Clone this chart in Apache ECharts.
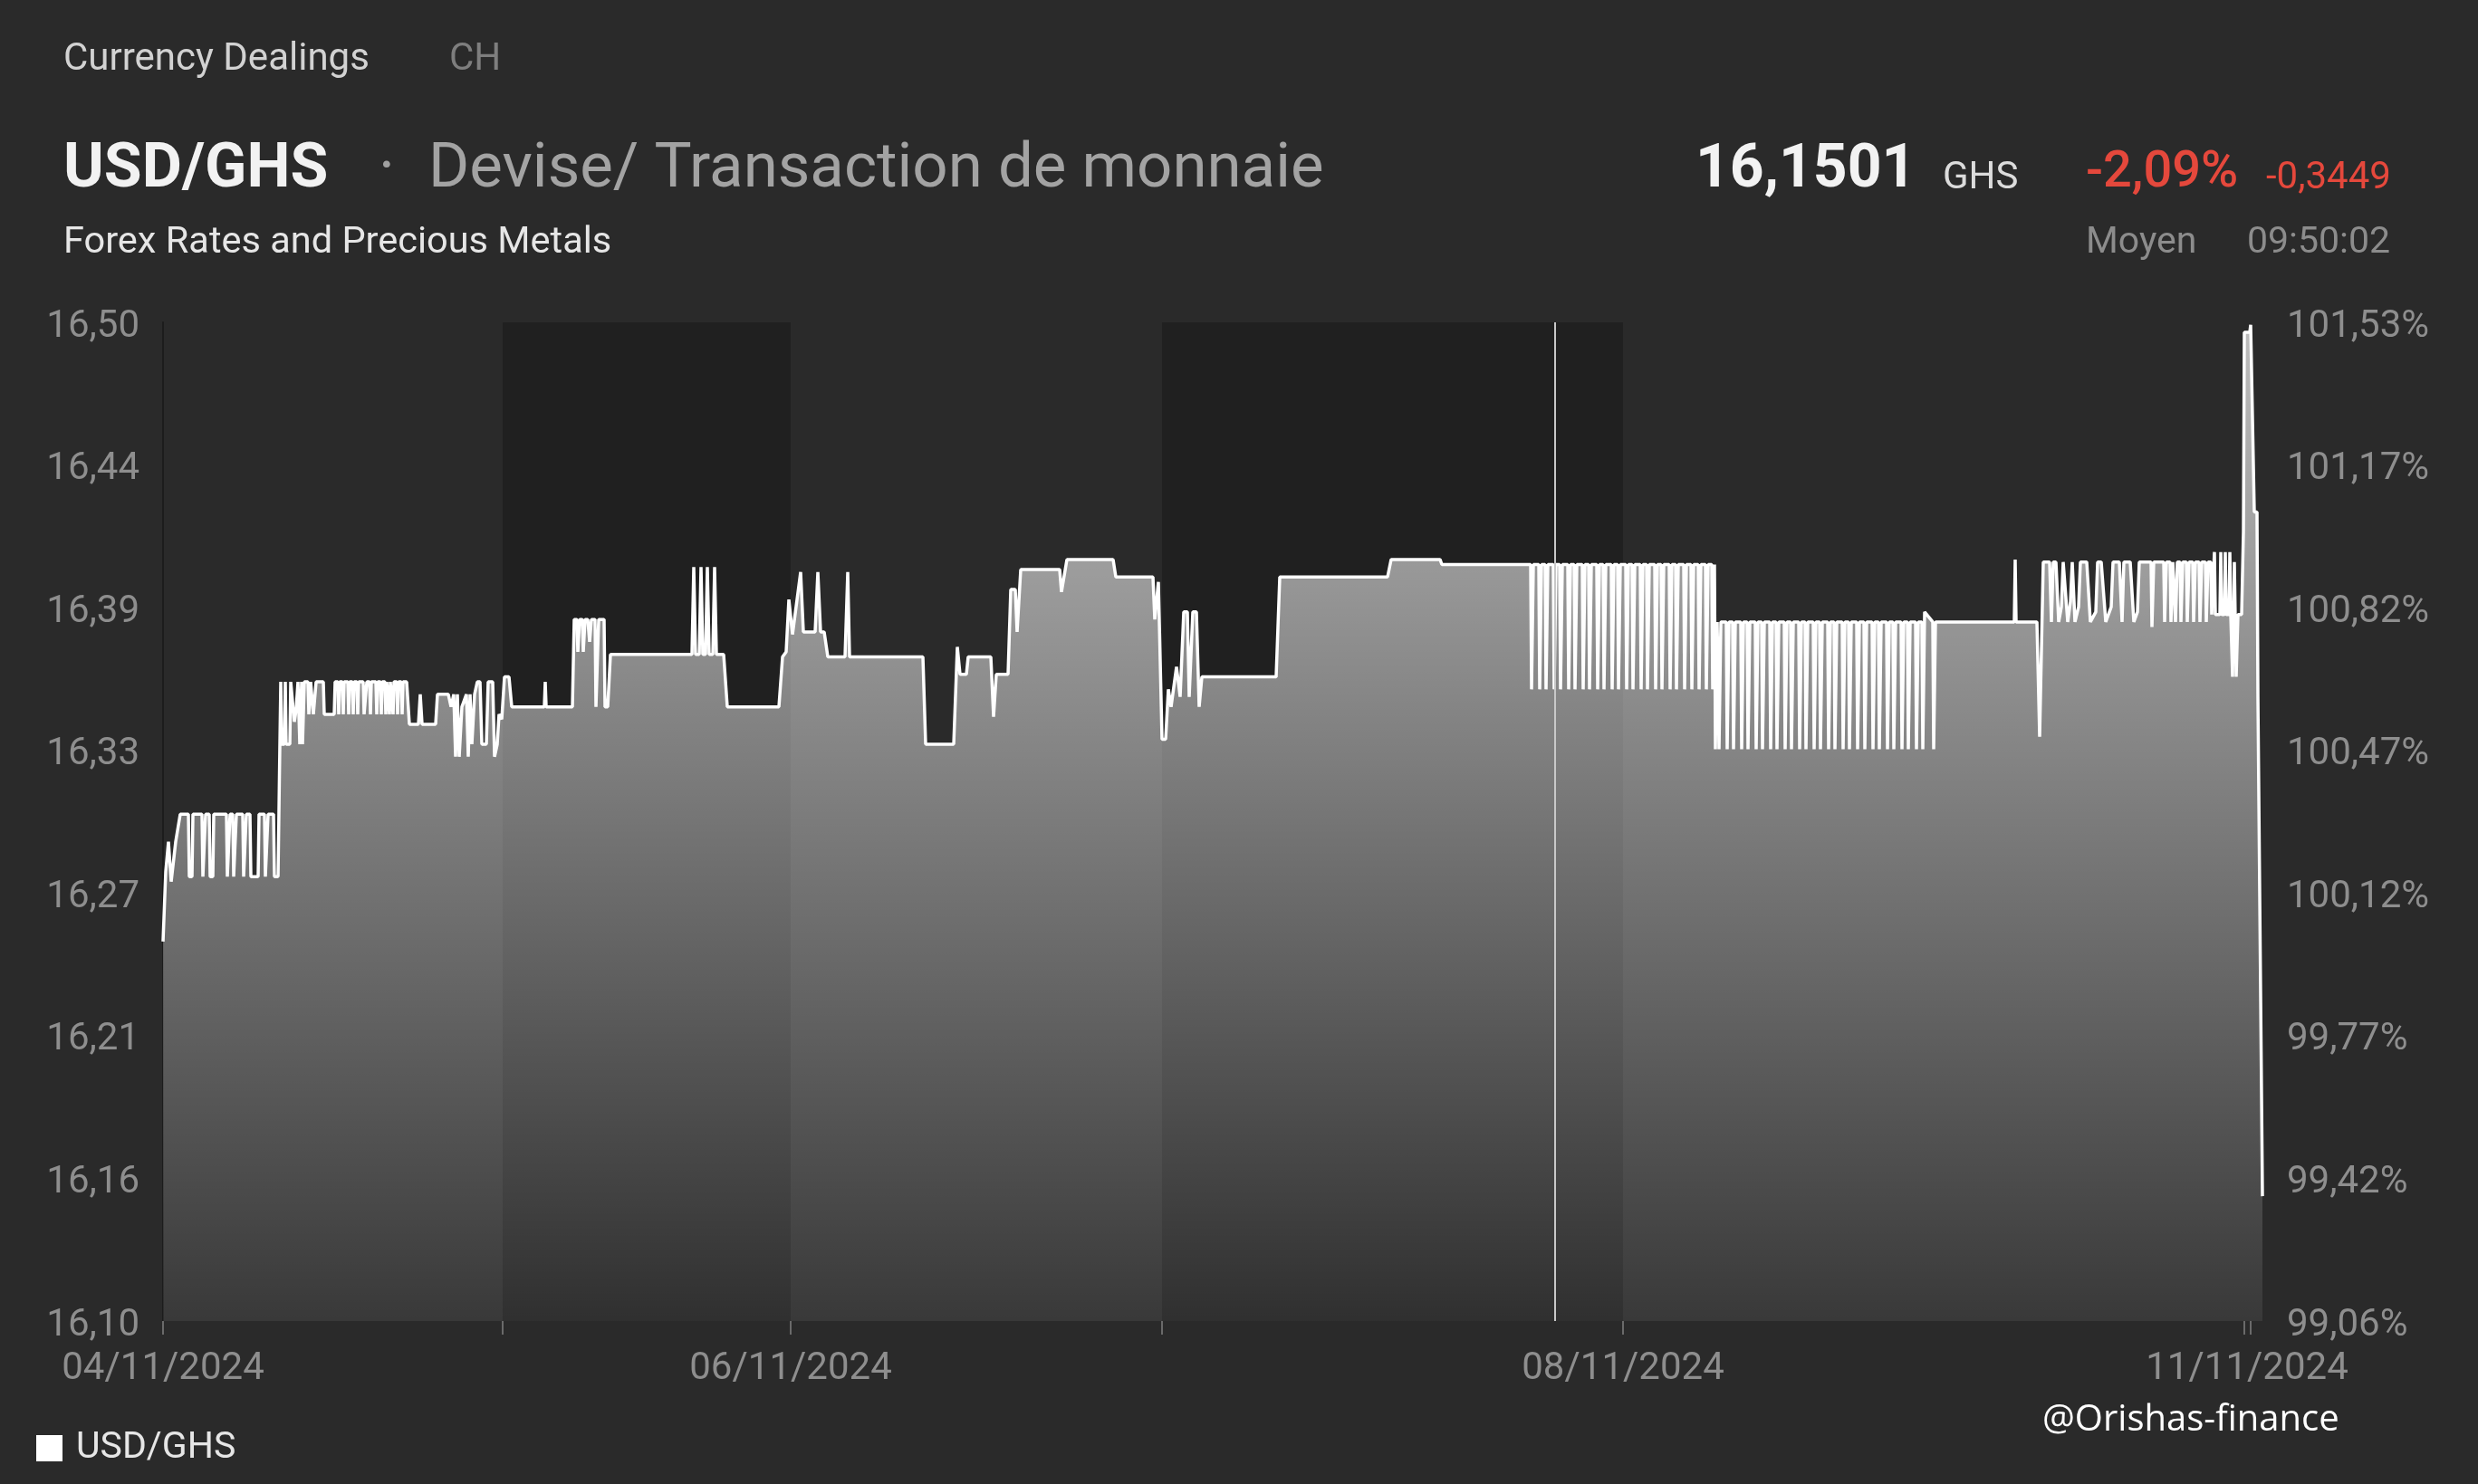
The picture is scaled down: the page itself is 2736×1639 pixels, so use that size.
<!DOCTYPE html>
<html><head><meta charset="utf-8">
<script src="https://cdn.jsdelivr.net/npm/echarts@6/dist/echarts.min.js"></script>
<style>html,body{margin:0;padding:0;background:#2a2a2a;}#chart{width:2736px;height:1639px;}</style>
</head><body><div id="chart"></div>
<script>
// x = trading-time index, y = USD/GHS rate
const day04 = [[0,16.252],[3,16.280],[6,16.292],[9,16.276],[14,16.292],[19,16.303],
[28,16.303],[29,16.278],[32,16.278],[33,16.303],[43,16.303],[44,16.278],[46,16.278],[47,16.303],
[51,16.303],[52,16.278],[55,16.278],[56,16.303],[70,16.303],[71,16.278],[73,16.278],[74,16.303],
[77,16.303],[78,16.278],[80,16.278],[81,16.303],[88,16.303],[89,16.278],[91,16.278],[92,16.303],
[96,16.303],[97,16.278],[105,16.278],[106,16.303],[112,16.303],[113,16.278],[115,16.278],[116,16.303],
[122,16.303],[123,16.278],[127,16.278],
[129,16.331],[130,16.356],[131,16.331],[134,16.331],[135,16.356],[136,16.331],[140,16.331],[141,16.356],
[143,16.356],[145,16.340],[147,16.345],[149,16.356],[151,16.331],[153,16.356],[154,16.331],[156,16.356],
[160,16.356],[161,16.343],[163,16.356],[165,16.356],[166,16.343],[168,16.343],[169,16.356],[177,16.356],
[178,16.343],[189,16.343],[190,16.356],[193,16.356],[194,16.343],[195,16.356],[198,16.356],[199,16.343],
[200,16.356],[204,16.356],[205,16.343],[206,16.356],[209,16.356],[210,16.343],[211,16.356],[214,16.356],
[215,16.343],[216,16.356],[221,16.356],[222,16.343],[224,16.343],[225,16.356],[228,16.356],[229,16.343],
[230,16.356],[235,16.356],[236,16.343],[237,16.356],[240,16.356],[241,16.343],[242,16.356],[245,16.356],
[246,16.343],[247,16.356],[249,16.356],[250,16.343],[251,16.356],[253,16.356],[254,16.343],[255,16.356],
[258,16.356],[259,16.343],[260,16.356],[263,16.356],[264,16.343],[265,16.356],[269,16.356],
[272,16.339],[282,16.339],[284,16.351],[286,16.339],[301,16.339],[303,16.351],[315,16.351],[318,16.346],
[321,16.351],[323,16.326],[325,16.351],[327,16.326],[330,16.346],[335,16.351],[337,16.326],[339,16.351],
[341,16.331],[344,16.351],[347,16.356],[350,16.356],[352,16.331],[357,16.331],[359,16.356],[364,16.356],
[366,16.326],[369,16.331],[371,16.343],[374,16.341]];
const day05 = [[377,16.358],[382,16.358],[385,16.346],[421,16.346],[422,16.356],[423,16.346],[452,16.346],
[454,16.381],[457,16.381],[458,16.368],[460,16.381],[463,16.381],[464,16.368],[466,16.381],[469,16.381],
[471,16.372],[473,16.381],[477,16.381],[478,16.346],[480,16.346],[481,16.381],[487,16.381],[488,16.346],
[491,16.346],[494,16.367],[584,16.367],[586,16.402],[588,16.367],[592,16.367],[594,16.402],[596,16.367],
[599,16.367],[601,16.402],[603,16.367],[607,16.367],[609,16.402],[611,16.367],[619,16.367],[623,16.346],
[680,16.346],[684,16.366],[688,16.368],[691,16.389]];
const day06 = [[695,16.375],[697,16.375],[704,16.400],[707,16.376],[720,16.376],[723,16.400],[726,16.376],
[730,16.376],[734,16.366],[753,16.366],[756,16.400],[758,16.366],[839,16.366],[842,16.331],[873,16.331],
[877,16.370],[880,16.359],[887,16.359],[889,16.366],[914,16.366],[917,16.342],[920,16.359],[933,16.359],
[936,16.393],[941,16.393],[943,16.376],[947,16.401],[990,16.401],[992,16.392],[998,16.405],[1049,16.405],
[1052,16.398],[1093,16.398],[1095,16.381],[1099,16.396]];
const day07 = [[1103,16.333],[1107,16.333],[1110,16.353],[1113,16.346],[1119,16.362],[1123,16.350],
[1127,16.384],[1131,16.384],[1133,16.350],[1137,16.384],[1141,16.384],[1144,16.346],[1147,16.358],
[1229,16.358],[1233,16.398],[1352,16.398],[1356,16.405],[1410,16.405],[1412,16.403],
[1510,16.403],[1511,16.353],[1513,16.403],[1519,16.403],[1520,16.353],[1522,16.403],[1526,16.403],
[1527,16.353],[1529,16.403],[1535,16.403],[1536,16.353],[1538,16.403],[1542,16.403],[1543,16.353],
[1545,16.403],[1551,16.403],[1552,16.353],[1554,16.403],[1558,16.403],[1559,16.353],[1561,16.403],
[1567,16.403],[1568,16.353],[1570,16.403],[1574,16.403],[1575,16.353],[1577,16.403],[1583,16.403],
[1584,16.353],[1586,16.403],[1590,16.403],[1591,16.353],[1593,16.403],[1599,16.403],[1600,16.353],
[1602,16.403],[1606,16.403],[1607,16.353],[1609,16.403]];
const day08 = [[1615,16.403],[1616,16.353],[1618,16.403],[1622,16.403],[1623,16.353],[1625,16.403],
[1631,16.403],[1632,16.353],[1634,16.403],[1638,16.403],[1639,16.353],[1641,16.403],[1647,16.403],
[1648,16.353],[1650,16.403],[1654,16.403],[1655,16.353],[1657,16.403],[1663,16.403],[1664,16.353],
[1666,16.403],[1670,16.403],[1671,16.353],[1673,16.403],[1679,16.403],[1680,16.353],[1682,16.403],
[1687,16.403],[1688,16.353],[1690,16.403],[1695,16.403],[1696,16.353],[1698,16.403],[1703,16.403],
[1704,16.353],[1706,16.403],[1710,16.403],[1711,16.353],[1713,16.403],[1714,16.329],
[1716,16.380],[1717,16.380],[1718,16.329],[1720,16.380],[1726,16.380],[1727,16.329],[1729,16.380],
[1733,16.380],[1734,16.329],[1736,16.380],[1742,16.380],[1743,16.329],[1745,16.380],[1749,16.380],
[1750,16.329],[1752,16.380],[1758,16.380],[1759,16.329],[1761,16.380],[1765,16.380],[1766,16.329],
[1768,16.380],[1774,16.380],[1775,16.329],[1777,16.380],[1781,16.380],[1782,16.329],[1784,16.380],
[1790,16.380],[1791,16.329],[1793,16.380],[1797,16.380],[1798,16.329],[1800,16.380],[1806,16.380],
[1807,16.329],[1809,16.380],[1813,16.380],[1814,16.329],[1816,16.380],[1822,16.380],[1823,16.329],
[1825,16.380],[1829,16.380],[1830,16.329],[1832,16.380],[1838,16.380],[1839,16.329],[1841,16.380],
[1845,16.380],[1846,16.329],[1848,16.380],[1854,16.380],[1855,16.329],[1857,16.380],[1861,16.380],
[1862,16.329],[1864,16.380],[1870,16.380],[1871,16.329],[1873,16.380],[1878,16.380],[1879,16.329],
[1881,16.380],[1887,16.380],[1888,16.329],[1890,16.380],[1894,16.380],[1895,16.329],[1897,16.380],
[1903,16.380],[1904,16.329],[1906,16.380],[1910,16.380],[1911,16.329],[1913,16.380],[1919,16.380],
[1920,16.329],[1922,16.380],[1926,16.380],[1927,16.329],[1929,16.380],[1935,16.380],[1936,16.329],
[1938,16.380],[1942,16.380],[1943,16.329],[1945,16.384],[1954,16.380],[1955,16.329],[1957,16.380],
[2044,16.380],[2045,16.405],[2046,16.380],[2069,16.380],[2072,16.334],[2076,16.404],
[2083,16.404],[2085,16.380],[2087,16.404],[2090,16.404],[2093,16.380],[2096,16.386],[2098,16.404],
[2100,16.404],[2103,16.380],[2106,16.388],[2108,16.404],[2111,16.380],[2115,16.386],[2117,16.404],
[2124,16.404],[2128,16.380],[2134,16.384],[2136,16.404],[2140,16.404],[2145,16.380],[2151,16.386],
[2153,16.404],[2160,16.404],[2163,16.380],[2165,16.404],[2172,16.404],[2176,16.380],[2180,16.384],
[2182,16.404],[2195,16.404],[2196,16.378],[2198,16.404],[2209,16.404],[2210,16.380],[2212,16.404],
[2216,16.404],[2217,16.380],[2219,16.404],[2221,16.404],[2222,16.380],[2224,16.404],[2227,16.404],
[2228,16.380],[2230,16.404],[2234,16.404],[2235,16.380],[2237,16.404],[2241,16.404],[2242,16.380],
[2244,16.404],[2248,16.404],[2249,16.380],[2251,16.404],[2255,16.404],[2256,16.380],[2258,16.404],
[2261,16.404],[2262,16.383],[2264,16.383],[2265,16.408],[2266,16.383],[2271,16.383],[2272,16.408],
[2273,16.383],[2276,16.383],[2277,16.408],[2278,16.383],[2281,16.383],[2282,16.408],[2283,16.383],
[2285,16.358],[2287,16.404],[2289,16.358],[2291,16.383],[2295,16.383]];
const day11 = [[2297,16.416],[2298,16.496],[2304,16.496],[2305,16.499],[2307,16.499],[2309,16.424],
[2312,16.424],[2313,16.350],[2315,16.350],[2318,16.150]];

const dayStarts = [0, 375, 693, 1103, 1612, 2298];
const extraTicks = [2305];
const labelPositions = [0, 693, 1612, 2301];
const labelTexts = ['04/11/2024', '06/11/2024', '08/11/2024', '11/11/2024'];
const leftTickLabels = ['16,10','16,16','16,21','16,27','16,33','16,39','16,44','16,50'];
const rightTickLabels = ['99,06%','99,42%','99,77%','100,12%','100,47%','100,82%','101,17%','101,53%'];
const yMin = 16.10, yMax = 16.50, xEnd = 2318;
const cursorTime = 1537;

const series = [].concat(day04, day05, day06, day07, day08, day11);
const yStep = (yMax - yMin) / (leftTickLabels.length - 1);
const yTicks = leftTickLabels.map((_, i) => yMin + i * yStep);
const bands = [[dayStarts[1], dayStarts[2]], [dayStarts[3], dayStarts[4]]];

const axisFont = {color: '#8e8e8e', fontSize: 42, fontFamily: 'Roboto'};
const chart = echarts.init(document.getElementById('chart'), null, {renderer: 'canvas'});
const T = (text, x, y, fill, size, weight, align, family) => ({
  type: 'text', x: x, y: y, silent: true,
  style: {text: text, fill: fill, font: (weight || 'normal') + ' ' + size + 'px ' + (family || 'Roboto'),
          align: align || 'left', verticalAlign: 'middle'}
});
chart.setOption({
  animation: false,
  backgroundColor: '#2a2a2a',
  grid: {left: 180, right: 238, top: 356, bottom: 180},
  legend: {
    data: ['USD/GHS'], left: 35, top: 1574, icon: 'rect', itemWidth: 29, itemHeight: 29,
    textStyle: {color: '#e6e6e6', fontSize: 41, fontFamily: 'Roboto', padding: [0, 0, 0, 10]},
    selectedMode: false
  },
  xAxis: {
    type: 'value', min: 0, max: xEnd,
    axisLine: {show: false},
    splitLine: {show: false},
    axisTick: {show: true, customValues: dayStarts.concat(extraTicks), length: 15,
               lineStyle: {color: '#6a6a6a', width: 2}},
    axisLabel: Object.assign({customValues: labelPositions, margin: 32,
      formatter: v => labelTexts[labelPositions.indexOf(v)] || ''}, axisFont)
  },
  yAxis: [{
    type: 'value', min: yMin, max: yMax, position: 'left',
    axisLine: {show: true, lineStyle: {color: '#1c1c1c', width: 2}},
    axisTick: {show: false}, splitLine: {show: false},
    axisLabel: Object.assign({customValues: yTicks, margin: 26, verticalAlign: 'top', lineHeight: 10,
      formatter: v => leftTickLabels[Math.round((v - yMin) / yStep)]}, axisFont)
  }, {
    type: 'value', min: yMin, max: yMax, position: 'right',
    axisLine: {show: false}, axisTick: {show: false}, splitLine: {show: false},
    axisLabel: Object.assign({customValues: yTicks, margin: 27, verticalAlign: 'top', lineHeight: 10,
      formatter: v => rightTickLabels[Math.round((v - yMin) / yStep)]}, axisFont)
  }],
  series: [{
    name: 'bands', type: 'line', data: [], silent: true,
    markArea: {silent: true, itemStyle: {color: '#202020'},
      data: bands.map(b => [{xAxis: b[0]}, {xAxis: b[1]}])}
  }, {
    name: 'USD/GHS', type: 'line', data: series, showSymbol: false, symbol: 'none',
    clip: false, z: 3,
    itemStyle: {color: '#ffffff'},
    lineStyle: {color: '#ffffff', width: 3.5},
    areaStyle: {opacity: 1, color: new echarts.graphic.LinearGradient(0, 0, 0, 1, [
      {offset: 0, color: 'rgba(255,255,255,0.69)'},
      {offset: 1, color: 'rgba(255,255,255,0.07)'}])},
    markLine: {silent: true, symbol: 'none', label: {show: false},
      lineStyle: {color: '#c8c8c8', width: 2, type: 'solid'},
      data: [{xAxis: cursorTime}]}
  }],
  graphic: [
    T('Currency Dealings', 70, 66, '#d2d2d2', 42),
    T('CH', 496, 66, '#7e7e7e', 42),
    T('USD/GHS', 70, 189, '#f2f2f2', 68, 'bold'),
    T('·', 427, 189, '#a0a0a0', 69, 'normal', 'center'),
    T('Devise/ Transaction de monnaie', 473, 189, '#a3a3a3', 69),
    T('Forex Rates and Precious Metals', 70, 269, '#e6e6e6', 41.5),
    T('16,1501', 1872, 189, '#f2f2f2', 66, 'bold'),
    T('GHS', 2145, 197, '#dcdcdc', 42),
    T('-2,09%', 2303, 192, '#e5483c', 56, '500'),
    T('-0,3449', 2502, 197, '#e5483c', 42),
    T('Moyen', 2303, 269, '#8c8c8c', 41),
    T('09:50:02', 2481, 269, '#8c8c8c', 41),
    T('@Orishas-finance', 2255, 1569, '#ffffff', 40, 'normal', 'left', 'Open Sans')
  ]
});
</script></body></html>
